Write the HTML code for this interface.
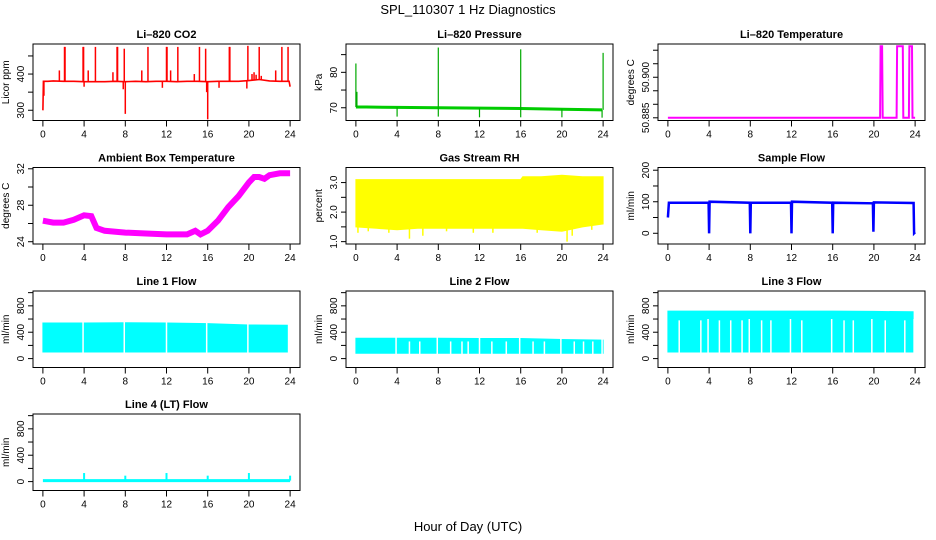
<!DOCTYPE html>
<html><head><meta charset="utf-8"><style>
html,body{margin:0;padding:0;background:#fff;}
svg{display:block;font-family:"Liberation Sans",Arial,sans-serif;}
</style></head><body>
<svg id="chart" width="936" height="540" viewBox="0 0 936 540" xmlns="http://www.w3.org/2000/svg">
<text x="468" y="14" text-anchor="middle" font-size="13">SPL_110307  1 Hz Diagnostics</text>
<text x="468" y="531" text-anchor="middle" font-size="13">Hour of Day (UTC)</text>
</svg>
<script>
// ---- data arrays ----
const xTicks = [0,4,8,12,16,20,24];
// CO2
const co2BaseHours = [0,0.05,0.5,1,2,3,4,5,6,7,8,9,10,11,12,13,14,15,16,17,18,19,20,21,22,23,23.9,24];
const co2BaseVals  = [300,380,380,381,380,380,379,379,379,380,379,380,379,380,380,379,380,380,379,380,380,380,382,385,381,380,380,365];
const co2SpikeHours = [2.1,2.15,3.9,3.95,5.1,7.2,7.25,7.9,10.2,12.0,12.05,13.1,15.2,15.8,18.1,18.15,19.9,21.0,23.2,23.8,1.6,4.4,6.8,9.6,12.4,14.7,22.6,20.3,20.5,20.7,21.2,8.0,16.0,0.1,4.0,7.8,11.6,15.9,17.1,19.8];
const co2SpikeVals  = [475,475,475,475,475,475,475,470,475,475,475,475,475,470,475,475,478,475,475,475,410,410,405,410,410,400,410,400,405,398,395,290,275,340,365,358,362,350,362,360];
// Pressure
const presHours = [0,0.1,1,4,8,12,16,20,23.9];
const presVals  = [70.2,70.2,70.2,70.1,70.0,69.9,69.8,69.6,69.4];
const presSpikeHours = [0,0.1,8,16,24,4,8,12,16,20,23.9];
const presSpikeVals  = [82.5,74.5,87,86.5,85.5,67.5,67.5,67.3,67.3,67.3,67.2];
// Li-820 temperature
const tempHours = [0,20.6,20.65,20.8,20.85,22.2,22.25,22.8,22.85,23.4,23.45,23.7,23.75,24];
const tempVals  = [50.885,50.885,50.9115,50.9115,50.885,50.885,50.9115,50.9115,50.885,50.885,50.9115,50.9115,50.885,50.885];
// Ambient box temperature
const ambHours = [0,1,2,3,4,4.7,5.2,6,8,10,12,14,14.8,15.3,16,17,18,19,20,20.5,21,21.5,22,23,24];
const ambVals  = [26.3,26.1,26.1,26.4,26.9,26.8,25.5,25.2,25.0,24.9,24.8,24.8,25.2,24.8,25.2,26.3,27.8,29.0,30.5,31.1,31.1,30.9,31.3,31.5,31.5];
// Gas stream RH band
const rhHours = [0,2,4,6,8,10,12,14,16,16.2,18,20,22,24];
const rhHigh  = [3.1,3.1,3.1,3.1,3.1,3.1,3.1,3.1,3.1,3.2,3.2,3.25,3.2,3.2];
const rhLow   = [1.5,1.45,1.4,1.45,1.45,1.45,1.45,1.45,1.45,1.45,1.4,1.35,1.5,1.6];
const rhDipHours = [0.2,1.2,3.2,5.2,6.5,8.8,11.4,13.3,17.6,20.5,21.0,22.9];
const rhDipVals  = [1.3,1.35,1.3,1.1,1.2,1.35,1.3,1.3,1.3,1.0,1.2,1.4];
// Sample flow
const sfHours = [0,0.1,1,3.95,4,4.05,7.95,8,8.05,11.95,12,12.05,15.95,16,16.05,19.9,19.95,20,23.85,23.9,24];
const sfVals  = [50,97,97,97,0,100,97,0,97,97,0,100,97,0,97,95,5,98,96,0,3];
// Line flows (band hi/lo + gaps)
const l1Hours = [0,4,8,12,16,20,23.8];
const l1High  = [540,540,545,540,530,510,505];
const l1Low   = [100,100,100,100,100,100,100];
const l1GapHours = [3.9,7.9,12.0,15.9,19.9,23.85];
const l1GapTops  = [560,560,560,560,560,560];
const l2Hours = [0,4,8,12,16,20,24];
const l2High  = [310,310,310,305,305,290,280];
const l2Low   = [80,80,80,80,80,80,80];
const l2GapHours = [3.9,5.2,6.2,7.9,9.2,10.3,10.9,12.0,13.2,14.6,15.9,17.2,18.3,19.9,21.2,22.1,23.0,23.9];
const l2GapTops  = [320,260,260,320,260,260,260,320,260,260,320,260,260,320,260,260,260,320];
const l3Hours = [0,4,8,12,16,20,23.8];
const l3High  = [720,720,720,720,720,715,710];
const l3Low   = [100,100,100,100,100,100,100];
const l3GapHours = [1.1,3.2,3.9,5.0,6.1,7.2,7.9,9.1,10.0,11.9,13.0,15.9,17.1,18.0,19.8,21.1,23.0,23.9];
const l3GapTops  = [580,580,600,580,580,580,600,580,580,600,580,600,580,580,600,580,580,600];
const l4Hours = [0,24];
const l4Vals  = [15,15];
const l4SpikeHours = [4,8,12,16,20,24];
const l4SpikeVals  = [130,90,130,90,130,90];

// ---- layout ----
const NS="http://www.w3.org/2000/svg";
const svg=document.getElementById('chart');
const colL=[33,346,658], rowT=[44,167.5,291,414], W=267, H=76.5;
function mk(tag,attrs,parent){const e=document.createElementNS(NS,tag);for(const k in attrs)e.setAttribute(k,attrs[k]);(parent||svg).appendChild(e);return e;}
function panel(key,c,r,title,ylab,ymin,ymax,ticks,labels){
  const L=colL[c],T=rowT[r];
  const g=mk('g',{});
  
  
  const xs=h=>L+(h+0.96)/25.92*W;
  const ys=v=>T+H-(v-ymin)/(ymax-ymin)*H;
  const t=mk('text',{x:L+W/2,y:T-6,'text-anchor':'middle','font-size':11,'font-weight':'bold'},g);t.textContent=title;
  
  
  const yl=mk('text',{x:0,y:0,'text-anchor':'middle','font-size':10,transform:`translate(${L-24},${T+H/2}) rotate(-90)`},g);yl.textContent=ylab;
  
  
  const plot=mk('g',{},g);
  const ax=mk('g',{stroke:'#000','stroke-width':1},g);
  xTicks.forEach(h=>{mk('line',{x1:xs(h),x2:xs(h),y1:T+H,y2:T+H+6},ax);});
  xTicks.forEach(h=>{const tt=mk('text',{x:xs(h),y:T+H+17,'text-anchor':'middle','font-size':10},g);tt.textContent=h;});
  ticks.forEach(v=>{mk('line',{x1:L-5,x2:L,y1:ys(v),y2:ys(v)},ax);});
  labels.forEach(v=>{const tt=mk('text',{x:0,y:0,'text-anchor':'middle','font-size':10,transform:`translate(${L-9},${ys(v.v)}) rotate(-90)`},g);tt.textContent=v.s;});
  mk('rect',{x:L,y:T,width:W,height:H,fill:'none',stroke:'#000','stroke-width':1},g);
  return {xs,ys,plot,L,T};
}
function poly(p,hours,vals,color,w,name){const pts=hours.map((h,i)=>p.xs(h).toFixed(1)+','+p.ys(vals[i]).toFixed(1)).join(' ');
  const e=mk('polyline',{points:pts,fill:'none',stroke:color,'stroke-width':w,'stroke-linejoin':'miter'},p.plot);
  
  
  return e;}
function spikes(p,baseH,baseV,hours,vals,color,w,name){
  hours.forEach((h,i)=>{let j=0;while(j<baseH.length-2&&baseH[j+1]<h)j++;
    const t=(h-baseH[j])/((baseH[j+1]-baseH[j])||1);const b=baseV[j]+(baseV[j+1]-baseV[j])*Math.max(0,Math.min(1,t));
    const e=mk('line',{x1:p.xs(h),x2:p.xs(h),y1:p.ys(b),y2:p.ys(vals[i]),stroke:color,'stroke-width':w},p.plot);
    
    });
}
function band(p,hours,hi,lo,color,name){
  const pts=hours.map((h,i)=>p.xs(h).toFixed(1)+','+p.ys(hi[i]).toFixed(1)).concat(hours.slice().reverse().map((h,k)=>{const i=hours.length-1-k;return p.xs(h).toFixed(1)+','+p.ys(lo[i]).toFixed(1);})).join(' ');
  const e=mk('polygon',{points:pts,fill:color,stroke:color,'stroke-width':1},p.plot);
  
  
}
function gaps(p,hours,tops,low,name){
  hours.forEach((h,i)=>{const e=mk('line',{x1:p.xs(h),x2:p.xs(h),y1:p.ys(tops[i]),y2:p.ys(low-20),stroke:'#fff','stroke-width':1.5},p.plot);
    
    });
}
const L=(v,s)=>({v:v,s:s||String(v)});
const flowTicks=[0,200,400,600,800,1000], flowLabels=[L(0),L(400),L(800)];

let p=panel('co2',0,0,'Li\u2013820 CO2','Licor ppm',271.7,483,[300,350,400,450],[L(300),L(400)]);
poly(p,co2BaseHours,co2BaseVals,'#ff0000',1.6,'co2-line');
spikes(p,co2BaseHours,co2BaseVals,co2SpikeHours,co2SpikeVals,'#ff0000',1.5,'co2-spike');

p=panel('pressure',1,0,'Li\u2013820 Pressure','kPa',66.4,88,[70,75,80,85],[L(70),L(80)]);
poly(p,presHours,presVals,'#00cc00',3,'pressure-line');
spikes(p,presHours,presVals,presSpikeHours,presSpikeVals,'#00aa00',1.2,'pressure-spike');

p=panel('li820-temp',2,0,'Li\u2013820 Temperature','degrees C',50.884,50.9123,[50.885,50.89,50.895,50.9,50.905,50.91],[L(50.885,'50.885'),L(50.9,'50.900')]);
poly(p,tempHours,tempVals,'#ff00ff',2,'li820-temp-line');

p=panel('ambient',0,1,'Ambient Box Temperature','degrees C',23.75,32.14,[24,26,28,30,32],[L(24),L(28),L(32)]);
poly(p,ambHours,ambVals,'#ff00ff',6,'ambient-temp-line');

p=panel('rh',1,1,'Gas Stream RH','percent',0.92,3.51,[1,1.5,2,2.5,3],[L(1,'1.0'),L(2,'2.0'),L(3,'3.0')]);
band(p,rhHours,rhHigh,rhLow,'#ffff00','rh-band');
spikes(p,rhHours,rhLow,rhDipHours,rhDipVals,'#ffff00',1.5,'rh-dip');

p=panel('sample-flow',2,1,'Sample Flow','ml/min',-34,208.6,[0,50,100,150,200],[L(0),L(100),L(200)]);
poly(p,sfHours,sfVals,'#0000ff',2.5,'sample-flow-line');

p=panel('line1',0,2,'Line 1 Flow','ml/min',-135,1025,flowTicks,flowLabels);
band(p,l1Hours,l1High,l1Low,'#00ffff','line1-band');gaps(p,l1GapHours,l1GapTops,100,'line1-gap');
p=panel('line2',1,2,'Line 2 Flow','ml/min',-135,1025,flowTicks,flowLabels);
band(p,l2Hours,l2High,l2Low,'#00ffff','line2-band');gaps(p,l2GapHours,l2GapTops,80,'line2-gap');
p=panel('line3',2,2,'Line 3 Flow','ml/min',-135,1025,flowTicks,flowLabels);
band(p,l3Hours,l3High,l3Low,'#00ffff','line3-band');gaps(p,l3GapHours,l3GapTops,100,'line3-gap');
p=panel('line4',0,3,'Line 4 (LT) Flow','ml/min',-135,1025,flowTicks,flowLabels);
poly(p,l4Hours,l4Vals,'#00ffff',3,'line4-line');
spikes(p,l4Hours,l4Vals,l4SpikeHours,l4SpikeVals,'#00ffff',2,'line4-spike');
</script>
</body></html>
